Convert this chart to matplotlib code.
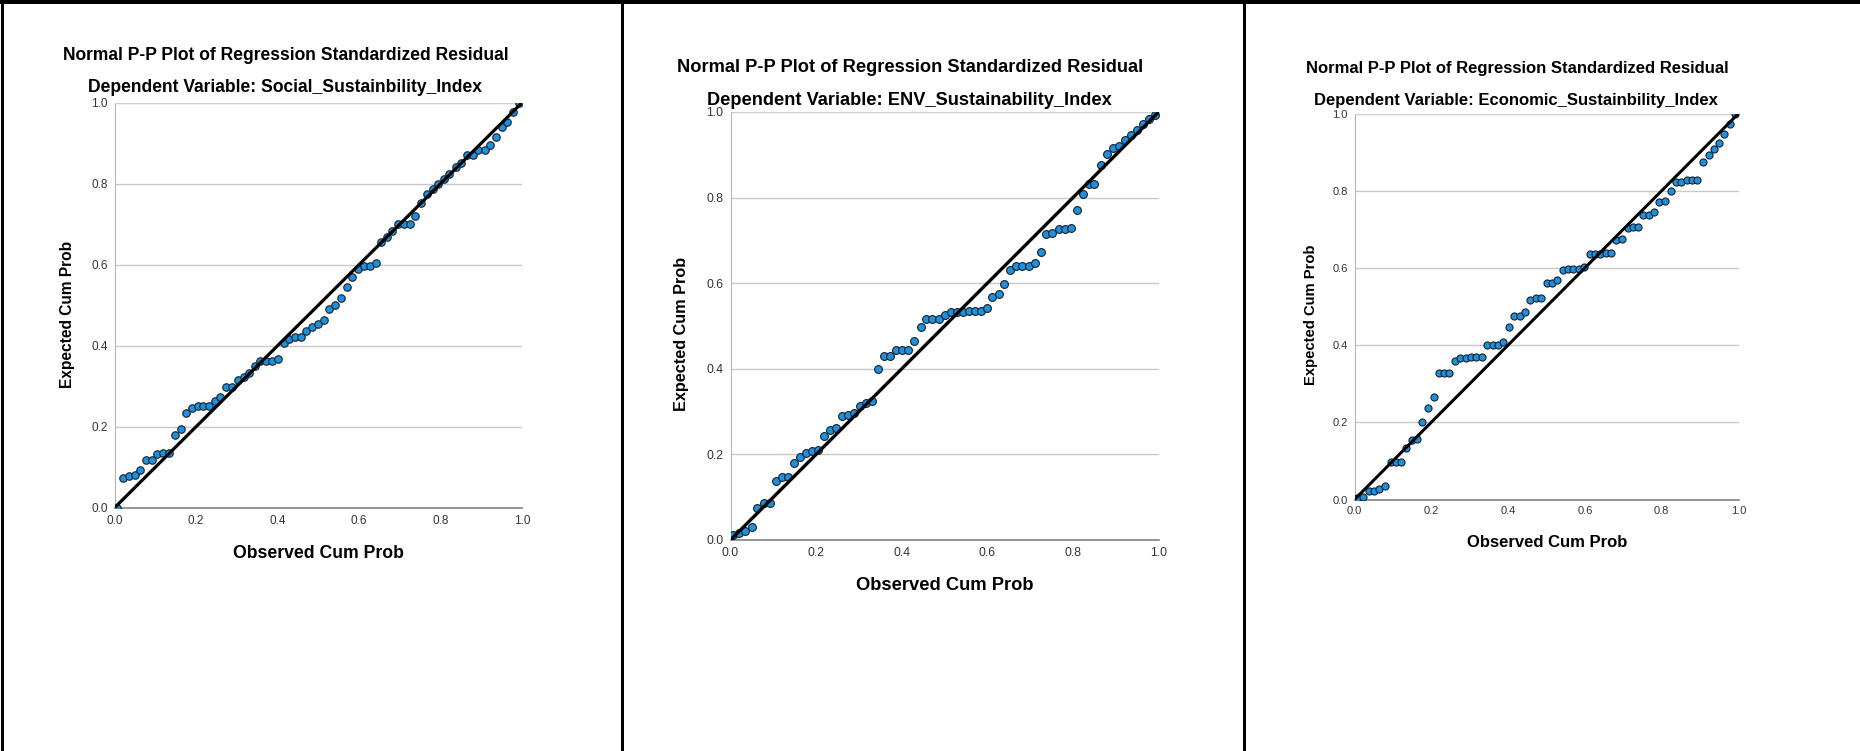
import matplotlib
matplotlib.use('Agg')
import matplotlib.pyplot as plt
from matplotlib.lines import Line2D

plt.rcParams['font.family'] = ['Liberation Sans', 'DejaVu Sans']

title = 'Normal P-P Plot of Regression Standardized Residual'
subtitles = ['Dependent Variable: Social_Sustainbility_Index',
             'Dependent Variable: ENV_Sustainability_Index',
             'Dependent Variable: Economic_Sustainbility_Index']
xlabel = 'Observed Cum Prob'
ylabel = 'Expected Cum Prob'
ticks = [0.0, 0.2, 0.4, 0.6, 0.8, 1.0]
tick_labels = ['0.0', '0.2', '0.4', '0.6', '0.8', '1.0']
ref_line = [0.0, 1.0]

social_obs = [0.007, 0.021, 0.035, 0.050, 0.063, 0.077, 0.091, 0.105, 0.119, 0.133,
              0.148, 0.162, 0.176, 0.190, 0.204, 0.218, 0.232, 0.246, 0.260, 0.274,
              0.288, 0.302, 0.317, 0.330, 0.345, 0.358, 0.373, 0.386, 0.401, 0.416,
              0.429, 0.443, 0.457, 0.471, 0.485, 0.499, 0.514, 0.527, 0.542, 0.555,
              0.570, 0.583, 0.598, 0.612, 0.626, 0.641, 0.653, 0.668, 0.682, 0.696,
              0.710, 0.724, 0.738, 0.752, 0.766, 0.781, 0.794, 0.809, 0.822, 0.837,
              0.850, 0.865, 0.879, 0.893, 0.908, 0.921, 0.935, 0.950, 0.964, 0.978,
              0.992]
social_exp = [0.000, 0.074, 0.078, 0.080, 0.093, 0.118, 0.118, 0.134, 0.136, 0.136,
              0.179, 0.194, 0.233, 0.247, 0.252, 0.252, 0.251, 0.264, 0.274, 0.297,
              0.298, 0.316, 0.322, 0.332, 0.351, 0.363, 0.363, 0.363, 0.367, 0.408,
              0.417, 0.421, 0.421, 0.437, 0.447, 0.453, 0.464, 0.491, 0.501, 0.518,
              0.546, 0.569, 0.590, 0.596, 0.596, 0.605, 0.657, 0.668, 0.684, 0.700,
              0.700, 0.700, 0.721, 0.752, 0.775, 0.787, 0.800, 0.812, 0.825, 0.841,
              0.852, 0.870, 0.872, 0.883, 0.883, 0.896, 0.915, 0.939, 0.953, 0.977,
              1.000]

env_obs = [0.006, 0.020, 0.035, 0.050, 0.063, 0.078, 0.092, 0.106, 0.120, 0.134,
           0.148, 0.162, 0.176, 0.190, 0.204, 0.218, 0.232, 0.246, 0.260, 0.274,
           0.288, 0.302, 0.316, 0.331, 0.345, 0.359, 0.373, 0.387, 0.401, 0.415,
           0.429, 0.444, 0.457, 0.471, 0.486, 0.500, 0.514, 0.528, 0.542, 0.556,
           0.570, 0.584, 0.598, 0.612, 0.627, 0.640, 0.654, 0.668, 0.682, 0.697,
           0.711, 0.725, 0.738, 0.752, 0.767, 0.781, 0.795, 0.809, 0.823, 0.837,
           0.850, 0.865, 0.879, 0.893, 0.907, 0.921, 0.935, 0.949, 0.963, 0.978,
           0.992]
env_exp = [0.012, 0.017, 0.021, 0.030, 0.074, 0.087, 0.087, 0.139, 0.148, 0.148,
           0.180, 0.193, 0.204, 0.208, 0.210, 0.243, 0.256, 0.261, 0.289, 0.291,
           0.297, 0.314, 0.321, 0.325, 0.399, 0.431, 0.431, 0.444, 0.444, 0.444,
           0.465, 0.498, 0.516, 0.516, 0.516, 0.525, 0.533, 0.533, 0.533, 0.534,
           0.534, 0.534, 0.541, 0.568, 0.574, 0.599, 0.632, 0.640, 0.640, 0.640,
           0.648, 0.673, 0.716, 0.718, 0.726, 0.726, 0.729, 0.770, 0.808, 0.831,
           0.831, 0.876, 0.902, 0.916, 0.921, 0.935, 0.947, 0.959, 0.972, 0.984,
           0.993]

econ_obs = [0.007, 0.022, 0.037, 0.051, 0.065, 0.080, 0.094, 0.107, 0.121, 0.135,
            0.149, 0.163, 0.177, 0.191, 0.206, 0.219, 0.233, 0.247, 0.261, 0.275,
            0.290, 0.304, 0.317, 0.331, 0.345, 0.360, 0.373, 0.388, 0.402, 0.416,
            0.430, 0.443, 0.458, 0.472, 0.486, 0.500, 0.514, 0.528, 0.542, 0.556,
            0.570, 0.584, 0.598, 0.612, 0.627, 0.640, 0.654, 0.668, 0.682, 0.697,
            0.711, 0.724, 0.738, 0.752, 0.766, 0.781, 0.794, 0.809, 0.823, 0.837,
            0.851, 0.865, 0.879, 0.893, 0.907, 0.922, 0.935, 0.950, 0.963, 0.977,
            0.991]
econ_exp = [0.005, 0.006, 0.021, 0.023, 0.027, 0.035, 0.097, 0.097, 0.097, 0.133,
            0.155, 0.158, 0.202, 0.237, 0.265, 0.327, 0.327, 0.327, 0.360, 0.366,
            0.366, 0.369, 0.369, 0.369, 0.400, 0.400, 0.400, 0.409, 0.446, 0.476,
            0.476, 0.485, 0.518, 0.521, 0.523, 0.562, 0.562, 0.568, 0.594, 0.598,
            0.598, 0.598, 0.603, 0.636, 0.636, 0.636, 0.638, 0.638, 0.673, 0.675,
            0.703, 0.707, 0.707, 0.737, 0.737, 0.745, 0.770, 0.773, 0.799, 0.822,
            0.822, 0.827, 0.827, 0.827, 0.875, 0.892, 0.909, 0.924, 0.947, 0.972,
            1.000]

observed = [social_obs, env_obs, econ_obs]
expected = [social_exp, env_exp, econ_exp]

# layout in pixels of the 1860x751 image: axes box (l, t, r, b), text centres, scale
W, H = 1860, 751
layout = [
    dict(box=(114.5, 102.7, 522.0, 507.8), title=(285.5, 55), sub=(285.2, 87.5),
         xl=(318, 553), yl=(67.5, 314), s=1.0),
    dict(box=(730.5, 112.0, 1158.6, 540.0), title=(910, 67), sub=(909, 100.3),
         xl=(945, 586), yl=(681, 334), s=1.043),
    dict(box=(1354.5, 113.5, 1738.5, 499.5), title=(1517, 69), sub=(1516, 100.7),
         xl=(1547, 542.5), yl=(1310.5, 315), s=0.946),
]


def fx(px):
    return px / W


def fy(py):
    return 1 - py / H


fig = plt.figure(figsize=(W / 100, H / 100), dpi=100)
fig.patch.set_facecolor('white')

for i, lay in enumerate(layout):
    l, t, r, b = lay['box']
    s = lay['s']
    ax = fig.add_axes([fx(l), fy(b), (r - l) / W, (b - t) / H])
    ax.scatter(observed[i], expected[i], s=29 * s * s, color='#1e90dc',
               edgecolors='#15202b', linewidths=0.8, zorder=3)
    ax.plot(ref_line, ref_line, color='black', lw=2.3 * s, zorder=4,
            solid_capstyle='butt')
    ax.set_xlim(0, 1)
    ax.set_ylim(0, 1)
    ax.set_xticks(ticks)
    ax.set_xticklabels(tick_labels)
    ax.set_yticks(ticks)
    ax.set_yticklabels(tick_labels)
    ax.yaxis.grid(True, color='#c8c8c8', lw=1.0)
    ax.set_axisbelow(True)
    ax.tick_params(length=0, labelsize=8.5 * s, labelcolor='#333333')
    ax.tick_params(axis='y', pad=5 * s)
    ax.tick_params(axis='x', pad=5 * s)
    ax.spines['right'].set_visible(False)
    ax.spines['top'].set_color('#d0d0d0')
    ax.spines['left'].set_color('#b4b4b4')
    ax.spines['bottom'].set_color('#8c8c8c')
    ax.spines['bottom'].set_linewidth(1.3)

    fig.text(fx(lay['title'][0]), fy(lay['title'][1]), title, ha='center',
             va='center', fontsize=12.64 * s, fontweight='bold')
    fig.text(fx(lay['sub'][0]), fy(lay['sub'][1]), subtitles[i], ha='center',
             va='center', fontsize=12.64 * s, fontweight='bold')
    fig.text(fx(lay['xl'][0]), fy(lay['xl'][1]), xlabel, ha='center',
             va='center', fontsize=12.7 * s, fontweight='bold')
    fig.text(fx(lay['yl'][0]), fy(lay['yl'][1]), ylabel, ha='center',
             va='center', fontsize=11.2 * s, fontweight='bold', rotation=90)

# black frame lines of the table cells
fig.add_artist(Line2D([0, 1], [fy(2), fy(2)], transform=fig.transFigure,
                      color='black', lw=4 * 0.72))
for xp in [1.5, 621.5, 1244]:
    fig.add_artist(Line2D([fx(xp), fx(xp)], [0, 1], transform=fig.transFigure,
                          color='black', lw=3 * 0.72))

fig.savefig('out.png', dpi=100)
